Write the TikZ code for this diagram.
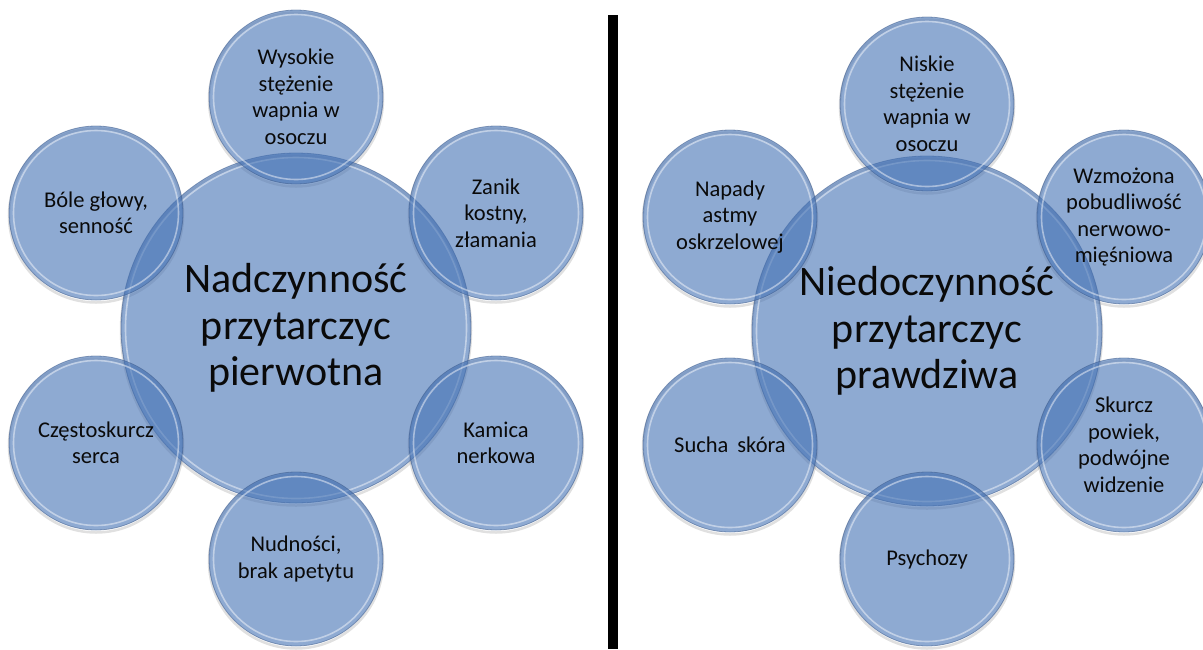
\documentclass[tikz,border=0pt]{standalone}
\usepackage{fontspec}
\setmainfont{Carlito}
\usetikzlibrary{backgrounds}

\definecolor{bubble}{RGB}{67,113,180}
\definecolor{rim}{RGB}{62,92,140}
\definecolor{ink}{RGB}{10,10,10}

\tikzset{
  hub/.style={circle, minimum size=350pt, inner sep=0pt, align=center,
    text=ink, font=\fontsize{42}{46.5}\selectfont},
  sat/.style={circle, minimum size=174pt, inner sep=0pt, align=center,
    text=ink, font=\fontsize{22.5}{26.5}\selectfont},
  bubblefill/.style={fill=bubble, fill opacity=0.6},
  rimline/.style={draw=rim, draw opacity=0.55, line width=0.8pt},
  glint/.style={draw=white, draw opacity=0.45, line width=1.6pt},
  softshadow/.style={draw=black, draw opacity=0.12, line width=2.5pt},
  divider/.style={fill=black},
}

\begin{document}
\begin{tikzpicture}[x=1pt, y=-1pt]
\useasboundingbox (0,0) rectangle (1203,649);

% left cluster: primary hyperparathyroidism
\node[hub] (L0) at (296,328) {Nadczynność\\przytarczyc\\pierwotna};
\node[sat] (L1) at (296,97)  {Wysokie\\stężenie\\wapnia w\\osoczu};
\node[sat] (L2) at (496,213) {Zanik\\kostny,\\złamania};
\node[sat] (L3) at (496,443) {Kamica\\nerkowa};
\node[sat] (L4) at (296,559) {Nudności,\\brak apetytu};
\node[sat] (L5) at (96,443)  {Częstoskurcz\\serca};
\node[sat] (L6) at (96,213)  {Bóle głowy,\\senność};

% right cluster: true hypoparathyroidism
\node[hub] (R0) at (927,331) {Niedoczynność\\przytarczyc\\prawdziwa};
\node[sat] (R1) at (927,104) {Niskie\\stężenie\\wapnia w\\osoczu};
\node[sat] (R2) at (1124,217) {Wzmożona\\pobudliwość\\nerwowo-\\mięśniowa};
\node[sat] (R3) at (1124,445) {Skurcz\\powiek,\\podwójne\\widzenie};
\node[sat] (R4) at (927,559) {Psychozy};
\node[sat] (R5) at (730,445) {Sucha\hspace{0.4em}skóra};
\node[sat] (R6) at (730,217) {Napady\\astmy\\oskrzelowej};

% separator bar
\fill[divider] (608,15) rectangle (618,649);

% translucent bubbles behind the labels
\begin{scope}[on background layer]
  \foreach \n/\r in {L0/175,L1/87,L2/87,L3/87,L4/87,L5/87,L6/87,
                     R0/175,R1/87,R2/87,R3/87,R4/87,R5/87,R6/87}
    \draw[softshadow] ([yshift=-2.5pt]\n.center) circle[radius=\r];
  \foreach \n/\r in {L0/175,L1/87,L2/87,L3/87,L4/87,L5/87,L6/87,
                     R0/175,R1/87,R2/87,R3/87,R4/87,R5/87,R6/87} {
    \fill[bubblefill] (\n.center) circle[radius=\r];
    \draw[rimline] (\n.center) circle[radius=\r];
    \draw[glint] (\n.center) circle[radius=\r-4.5];
  }
\end{scope}
\end{tikzpicture}
\end{document}
